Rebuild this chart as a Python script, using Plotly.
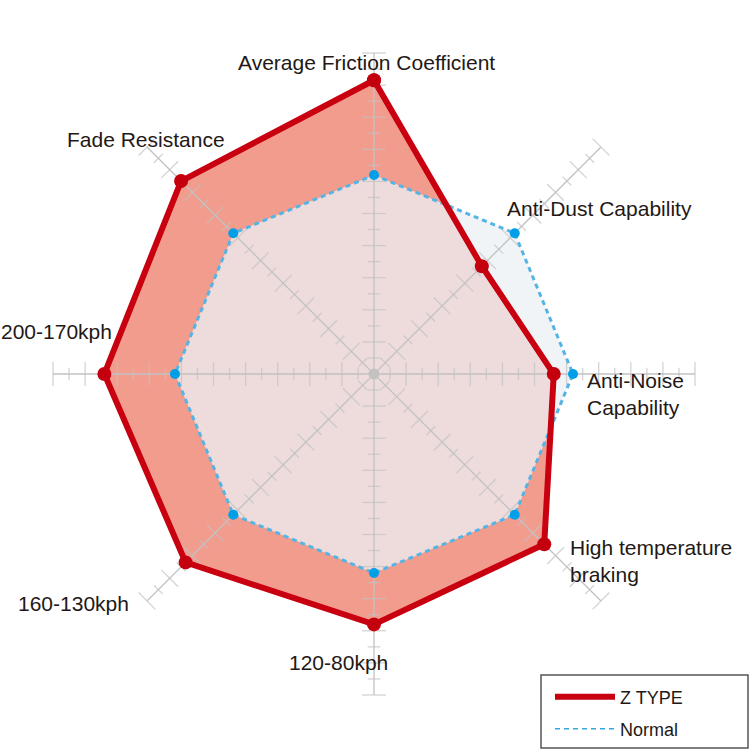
import numpy as np
import plotly.graph_objects as go

categories = [
    "Average Friction Coefficient",
    "Anti-Dust Capability",
    "Anti-Noise Capability",
    "High temperature braking",
    "120-80kph",
    "160-130kph",
    "200-170kph",
    "Fade Resistance",
]
z_type = [9.15, 4.75, 5.6, 7.5, 7.8, 8.3, 8.4, 8.5]
normal = [6.2, 6.2, 6.2, 6.2, 6.2, 6.2, 6.2, 6.2]
tick_values = list(np.arange(0.5, 10.01, 0.5))
r_max = 10

FONT = "Liberation Sans, Arial, sans-serif"
TEXT = "#231815"
GRID = "#c2c2c2"


def closed(values):
    return list(values) + [values[0]]


theta = closed(categories)

fig = go.Figure()

# red area, then the normal area laid over it (lighter inside, bluish outside)
fig.add_trace(go.Scatterpolar(
    r=closed(z_type), theta=theta, mode="none", fill="toself",
    fillcolor="#f29c8e", showlegend=False, hoverinfo="skip"))
fig.add_trace(go.Scatterpolar(
    r=closed(normal), theta=theta, mode="none", fill="toself",
    fillcolor="rgba(237,240,245,0.76)", showlegend=False, hoverinfo="skip"))

# spokes drawn over the fills
spoke_r, spoke_t = [], []
for cat in categories:
    spoke_r += [0, r_max, None]
    spoke_t += [cat, cat, None]
fig.add_trace(go.Scatterpolar(
    r=spoke_r, theta=spoke_t, mode="lines",
    line=dict(color=GRID, width=1.3), connectgaps=False,
    showlegend=False, hoverinfo="skip"))

# tick marks on every spoke
tick_r, tick_t, tick_size, tick_angle = [], [], [], []
for i, cat in enumerate(categories):
    for v in tick_values:
        tick_r.append(v)
        tick_t.append(cat)
        tick_size.append(17 if float(v).is_integer() else 9)
        tick_angle.append(45 * i)
fig.add_trace(go.Scatterpolar(
    r=tick_r, theta=tick_t, mode="markers",
    marker=dict(symbol="line-ew", size=tick_size, angle=tick_angle,
                line=dict(color=GRID, width=1.3)),
    showlegend=False, hoverinfo="skip"))
fig.add_trace(go.Scatterpolar(
    r=[0], theta=[categories[0]], mode="markers",
    marker=dict(color=GRID, size=11),
    showlegend=False, hoverinfo="skip"))

# series lines
fig.add_trace(go.Scatterpolar(
    r=closed(normal), theta=theta, mode="lines",
    line=dict(color="#55b4e4", width=3, dash="5px,4px"),
    showlegend=False, name="Normal"))
fig.add_trace(go.Scatterpolar(
    r=closed(z_type), theta=theta, mode="lines+markers",
    line=dict(color="#c8000f", width=6),
    marker=dict(color="#c4000f", size=14),
    showlegend=False, name="Z TYPE"))
fig.add_trace(go.Scatterpolar(
    r=normal, theta=categories, mode="markers",
    marker=dict(color="#009fe8", size=10),
    showlegend=False, name="Normal"))

# legend-only entries
fig.add_trace(go.Scatterpolar(
    r=[None], theta=[categories[0]], mode="lines", name="Z TYPE",
    line=dict(color="#c8000f", width=6), legend="legend"))
fig.add_trace(go.Scatterpolar(
    r=[None], theta=[categories[0]], mode="lines", name="Normal",
    line=dict(color="#35a8e0", width=1.5, dash="5px,4px"), legend="legend2"))

labels = [
    ("Average Friction Coefficient", 366, 63, "center"),
    ("Anti-Dust Capability", 505, 208, "left"),
    ("Anti-Noise<br>Capability", 585, 394, "left"),
    ("High temperature<br>braking", 568, 561, "left"),
    ("120-80kph", 338, 662, "center"),
    ("160-130kph", 131, 603, "right"),
    ("200-170kph", 114, 331, "right"),
    ("Fade Resistance", 227, 140, "right"),
]
annotations = [
    dict(text=t, x=x / 750, y=1 - y / 750, xref="paper", yref="paper",
         xanchor=a, yanchor="middle", align="left", showarrow=False,
         font=dict(family=FONT, size=21, color=TEXT))
    for t, x, y, a in labels
]

legend_style = dict(
    xanchor="left", yanchor="middle", x=550 / 750,
    bgcolor="rgba(0,0,0,0)", borderwidth=0, itemwidth=60,
    font=dict(family=FONT, size=18, color=TEXT))

fig.update_layout(
    width=750, height=750,
    margin=dict(l=0, r=0, t=0, b=0),
    paper_bgcolor="white",
    polar=dict(
        domain=dict(x=[53 / 750, 695 / 750], y=[55 / 750, 697 / 750]),
        bgcolor="rgba(0,0,0,0)",
        radialaxis=dict(range=[0, r_max], showgrid=False, showline=False,
                        showticklabels=False, ticks=""),
        angularaxis=dict(categoryorder="array", categoryarray=categories,
                         rotation=90, direction="clockwise",
                         showline=False, showticklabels=False, ticks="",
                         showgrid=False),
    ),
    legend=dict(y=1 - 697 / 750, **legend_style),
    legend2=dict(y=1 - 729 / 750, **legend_style),
    annotations=annotations,
    shapes=[dict(type="rect", xref="paper", yref="paper",
                 x0=541 / 750, x1=748 / 750, y0=1 - 748 / 750, y1=1 - 675 / 750,
                 line=dict(color="#555555", width=1.5))],
)

fig.write_html("out.html", config={"displayModeBar": False},
               post_script="document.body.style.margin='0';")
